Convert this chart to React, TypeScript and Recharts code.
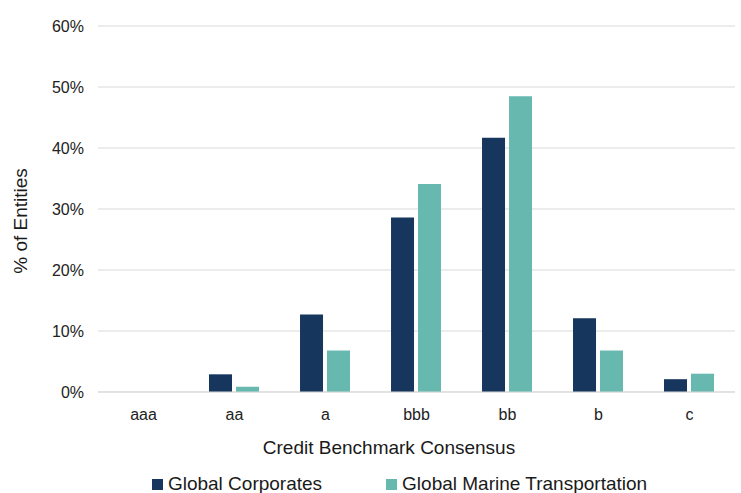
import React from 'react';
import { BarChart, Bar, XAxis, YAxis, CartesianGrid, Legend, Label } from 'recharts';

const categories = ['aaa', 'aa', 'a', 'bbb', 'bb', 'b', 'c'];
const globalCorporates = [0, 2.9, 12.7, 28.6, 41.7, 12.1, 2.1];
const globalMarine = [0, 0.85, 6.8, 34.1, 48.5, 6.8, 3.0];
const yTicks = [0, 10, 20, 30, 40, 50, 60];

const SERIES = [
  { key: 'corp', name: 'Global Corporates', color: '#17365D' },
  { key: 'marine', name: 'Global Marine Transportation', color: '#67B9B0' },
];

const data = categories.map((c, i) => ({ cat: c, corp: globalCorporates[i], marine: globalMarine[i] }));

const FONT = '"Liberation Sans", Arial, sans-serif';

const renderLegend = () => (
  <div style={{ display: 'flex', justifyContent: 'center', gap: 64, fontFamily: FONT, fontSize: 19, lineHeight: '22px', color: '#1a1a1a' }}>
    {SERIES.map((s) => (
      <div key={s.key} style={{ display: 'flex', alignItems: 'center' }}>
        <span style={{ display: 'inline-block', width: 11, height: 11, background: s.color, marginRight: 5 }} />
        <span>{s.name}</span>
      </div>
    ))}
  </div>
);

const YTitle = () => (
  <text x={27} y={221} transform="rotate(-90 27 221)" textAnchor="middle" fontFamily={FONT} fontSize={19} fill="#1a1a1a">
    % of Entities
  </text>
);

const XTitle = () => (
  <text x={389} y={454} textAnchor="middle" fontFamily={FONT} fontSize={19} fill="#1a1a1a">
    Credit Benchmark Consensus
  </text>
);

export default function App() {
  return (
    <div style={{ position: 'absolute', left: 0, top: 0, width: 741, height: 493, background: '#fff' }}>
      <BarChart
        width={741}
        height={493}
        data={data}
        margin={{ top: 26, right: 6, bottom: 49, left: 0 }}
        barCategoryGap="22%"
        barGap={4}
      >
        <CartesianGrid vertical={false} stroke="#D9D9D9" />
        <XAxis
          dataKey="cat"
          height={30}
          axisLine={{ stroke: '#D9D9D9' }}
          tickLine={false}
          tickMargin={11}
          tick={{ fontFamily: FONT, fontSize: 16, fill: '#222' }}
        >
          <Label content={XTitle} />
        </XAxis>
        <YAxis
          width={98}
          domain={[0, 60]}
          ticks={yTicks}
          interval={0}
          axisLine={false}
          tickLine={false}
          tickMargin={8}
          tickFormatter={(v: number) => `${v}%`}
          tick={{ fontFamily: FONT, fontSize: 16, fill: '#222' }}
        >
          <Label content={YTitle} />
        </YAxis>
        <Legend verticalAlign="bottom" height={22} content={renderLegend} wrapperStyle={{ left: 29, top: 473, width: 741, height: 22 }} />
        {SERIES.map((s) => (
          <Bar key={s.key} dataKey={s.key} name={s.name} fill={s.color} isAnimationActive={false} />
        ))}
      </BarChart>
    </div>
  );
}
